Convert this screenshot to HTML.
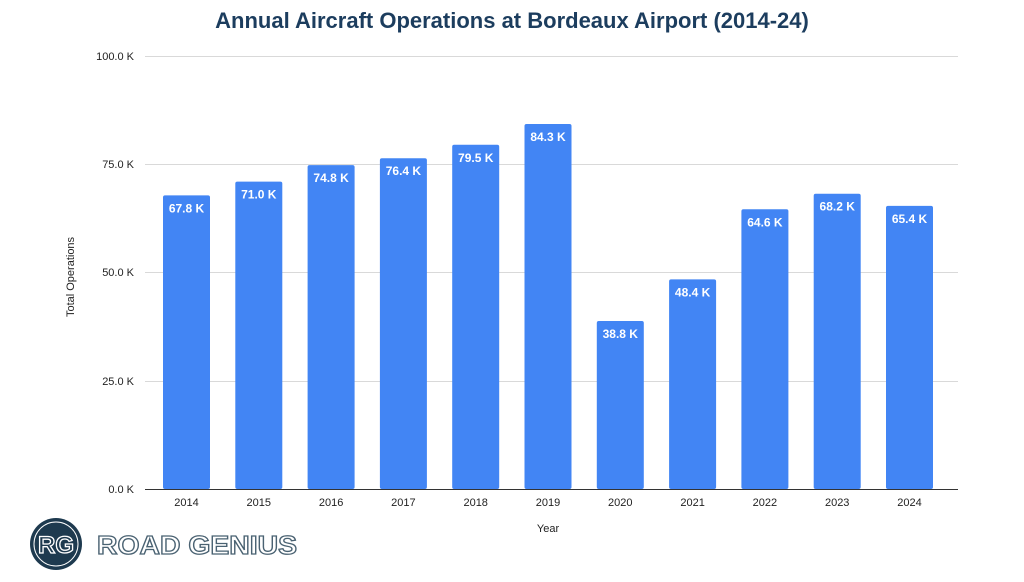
<!DOCTYPE html>
<html><head><meta charset="utf-8"><style>
body{margin:0;background:#fff;width:1024px;height:582px;overflow:hidden}
svg{display:block;font-family:"Liberation Sans",Arial,sans-serif}
</style></head><body>
<svg width="1024" height="582" viewBox="0 0 1024 582">
<text x="512" y="28" text-anchor="middle" font-size="22" font-weight="bold" fill="#1c3d5e">Annual Aircraft Operations at Bordeaux Airport (2014-24)</text>
<g stroke="#d9d9d9" stroke-width="1">
<line x1="145" x2="958" y1="56.5" y2="56.5"/><line x1="145" x2="958" y1="164.5" y2="164.5"/>
<line x1="145" x2="958" y1="272.5" y2="272.5"/><line x1="145" x2="958" y1="381.5" y2="381.5"/>
</g>
<line x1="145" x2="958" y1="489.5" y2="489.5" stroke="#333" stroke-width="1"/>
<g font-size="11" fill="#222" text-anchor="end">
<text x="134" y="60">100.0 K</text><text x="134" y="168">75.0 K</text><text x="134" y="276">50.0 K</text><text x="134" y="385">25.0 K</text><text x="134" y="493">0.0 K</text>
</g>
<text transform="translate(74,277) rotate(-90)" text-anchor="middle" font-size="11" fill="#222">Total Operations</text>
<text x="548" y="532" text-anchor="middle" font-size="11" fill="#222">Year</text>
<g id="bars"></g>
<circle cx="56" cy="544" r="26" fill="#1e3a4f"/>
<circle cx="56" cy="544" r="22" fill="none" stroke="#fff" stroke-width="1"/>
<text x="56" y="553" text-anchor="middle" font-size="24" font-weight="bold" fill="none" stroke="#fff" stroke-width="1.3">RG</text>
<text x="97" y="554" font-size="26" font-weight="bold" fill="none" stroke="#4a6272" stroke-width="1.3" textLength="200" lengthAdjust="spacingAndGlyphs">ROAD GENIUS</text>
</svg>
<script>
var d=[["2014",67.8],["2015",71.0],["2016",74.8],["2017",76.4],["2018",79.5],["2019",84.3],["2020",38.8],["2021",48.4],["2022",64.6],["2023",68.2],["2024",65.4]];
var g=document.getElementById("bars"),h="";
d.forEach(function(v,i){var x=163+i*72.3,t=489-v[1]*4.33,c=x+23.5;
h+='<rect x="'+x+'" y="'+t+'" width="47" height="'+(489-t)+'" rx="2" fill="#4285f4"/>';
h+='<text x="'+c+'" y="'+(t+17)+'" text-anchor="middle" font-size="12" font-weight="bold" fill="#fff">'+v[1].toFixed(1)+' K</text>';
h+='<text x="'+c+'" y="506" text-anchor="middle" font-size="11" fill="#222">'+v[0]+'</text>';});
g.innerHTML=h;
</script>
</body></html>
